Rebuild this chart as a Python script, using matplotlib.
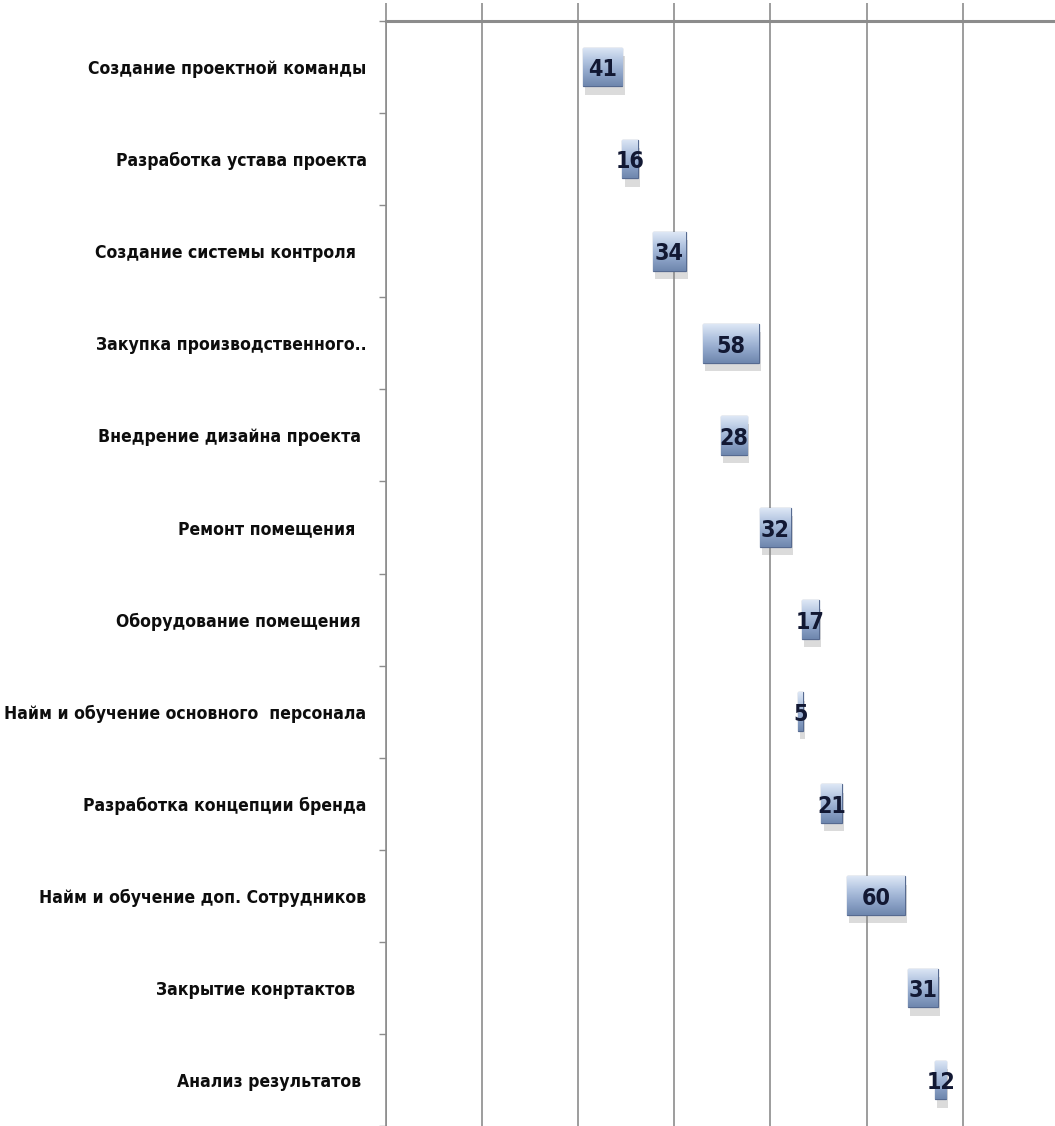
import numpy as np
import matplotlib
matplotlib.use('Agg')
import matplotlib.pyplot as plt
import matplotlib.patches as mpatches
import matplotlib.patheffects as pe
import matplotlib.font_manager as fm
from matplotlib.colors import LinearSegmentedColormap

tasks = [
    'Создание проектной команды',
    'Разработка устава проекта',
    'Создание системы контроля  ',
    'Закупка производственного..',
    'Внедрение дизайна проекта ',
    'Ремонт помещения  ',
    'Оборудование помещения ',
    'Найм и обучение основного  персонала',
    'Разработка концепции бренда',
    'Найм и обучение доп. Сотрудников',
    'Закрытие конртактов  ',
    'Анализ результатов ',
]
start = [205, 246, 278, 330, 348, 389, 433, 429, 453, 480, 543, 571]
duration = [41, 16, 34, 58, 28, 32, 17, 5, 21, 60, 31, 12]
grid_x = [0, 100, 200, 300, 400, 500, 600]


def pick_font():
    # the original uses a narrow bold face, try to find one
    fonts = fm.fontManager.ttflist
    for f in fonts:
        if f.name == 'Liberation Sans Narrow' and f.weight in (700, 'bold') and f.style == 'normal':
            return fm.FontProperties(fname=f.fname)
    for f in fonts:
        narrow = ('Narrow' in f.name or 'Condensed' in f.name
                  or f.stretch in ('condensed', 'semi-condensed', 'extra-condensed'))
        if narrow and f.weight in (600, 700, 'bold', 'semibold') and f.style == 'normal':
            return fm.FontProperties(fname=f.fname)
    return fm.FontProperties(family='Liberation Sans', weight='bold')


fp = pick_font()

bar_h = 0.42
grad_cmap = LinearSegmentedColormap.from_list(
    'bar', ['#dde7f5', '#b3c5e1', '#8fa5c9', '#6f87ae'])
grad = np.linspace(0, 1, 64).reshape(-1, 1)

fig = plt.figure(figsize=(10.55, 11.26), dpi=100)
ax = fig.add_axes([386 / 1055, 0.0, 1 - 386 / 1055, 1 - 21 / 1126])

n = len(tasks)
ypos = np.arange(n)
num_texts = []
for y, s, d in zip(ypos, start, duration):
    rect = mpatches.Rectangle((s, y - bar_h / 2), d, bar_h,
                              facecolor='#9fb3d4', edgecolor='#566a90',
                              linewidth=0.9, zorder=3)
    rect.set_path_effects([pe.SimplePatchShadow(offset=(1.5, -6), shadow_rgbFace='#8a8a8a', alpha=0.3),
                           pe.Normal()])
    ax.add_patch(rect)
    im = ax.imshow(grad, cmap=grad_cmap, aspect='auto', interpolation='bilinear',
                   extent=(s, s + d, y + bar_h / 2, y - bar_h / 2), zorder=4)
    im.set_clip_path(rect)
    t = ax.text(s + d / 2, y + 0.03, str(d), ha='center', va='center',
                fontproperties=fp, fontsize=21, color='#121833', zorder=6)
    num_texts.append(t)

ax.set_xlim(0, 696)
ax.set_ylim(n - 0.5, -0.5)

ax.set_xticks(grid_x)
ax.xaxis.tick_top()
ax.tick_params(axis='x', which='major', direction='out', length=13,
               width=1.2, color='#8c8c8c', labeltop=False, labelbottom=False)
ax.grid(axis='x', color='#8c8c8c', linewidth=1.2, zorder=0)

ax.set_yticks(ypos)
ax.set_yticklabels(tasks, fontproperties=fp, color='#0d0d0d')
ax.set_yticks(np.arange(n + 1) - 0.5, minor=True)
ax.tick_params(axis='y', which='major', length=0, pad=14)
ax.tick_params(axis='y', which='minor', direction='out', length=5,
               width=1.0, color='#8c8c8c')

for side in ['right', 'bottom']:
    ax.spines[side].set_visible(False)
ax.spines['top'].set_color('#8c8c8c')
ax.spines['top'].set_linewidth(2.2)
ax.spines['left'].set_color('#8c8c8c')
ax.spines['left'].set_linewidth(1.2)
ax.set_axisbelow(True)

# shrink the labels so the widest one fits left of the axis
labels = ax.get_yticklabels()
for lb in labels:
    lb.set_fontsize(17)
fig.canvas.draw()
r = fig.canvas.get_renderer()
widest = max(lb.get_window_extent(r).width for lb in labels)
size = min(17, 17 * 360 / widest)
for lb in labels:
    lb.set_fontsize(size)
# numbers: "41" about 29 px wide
w41 = num_texts[0].get_window_extent(r).width
nsize = min(22, 21 * 29 / w41)
for t in num_texts:
    t.set_fontsize(nsize)

fig.savefig('out.png', dpi=100)
